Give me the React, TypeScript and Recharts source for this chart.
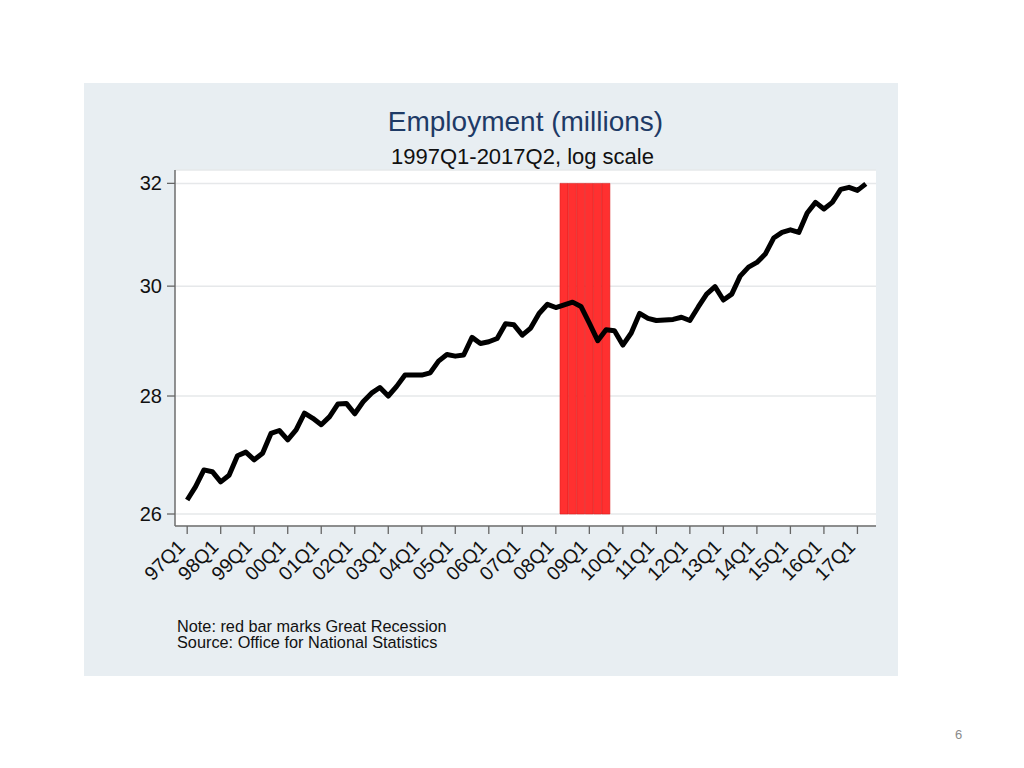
import React from 'react';
import { ComposedChart, Bar, Line, XAxis, YAxis, CartesianGrid } from 'recharts';

// quarters 1997Q1 .. 2017Q2, labelled like "97Q1"
const firstYear = 1997;
const lastYear = 2017;
const lastQuarter = 2;
const quarters: string[] = [];
for (let y = firstYear; y <= lastYear; y++) {
    for (let q = 1; q <= 4; q++) {
        if (y === lastYear && q > lastQuarter) break;
        quarters.push(`${String(y % 100).padStart(2, '0')}Q${q}`);
    }
}

// employment, millions
const employment = [
    26.23, 26.45, 26.73, 26.70, 26.53, 26.64, 26.97, 27.03, 26.90, 27.01,
    27.35, 27.40, 27.24, 27.41, 27.70, 27.61, 27.50, 27.64, 27.86, 27.87,
    27.69, 27.90, 28.05, 28.15, 28.00, 28.17, 28.37, 28.37, 28.37, 28.41,
    28.62, 28.74, 28.71, 28.73, 29.05, 28.94, 28.97, 29.03, 29.30, 29.28,
    29.09, 29.22, 29.49, 29.66, 29.60, 29.65, 29.70, 29.62, 29.31, 28.99,
    29.19, 29.17, 28.91, 29.13, 29.49, 29.40, 29.36, 29.37, 29.38, 29.42,
    29.36, 29.61, 29.85, 29.99, 29.74, 29.85, 30.19, 30.36, 30.45, 30.61,
    30.92, 31.03, 31.08, 31.03, 31.41, 31.62, 31.49, 31.62, 31.88, 31.92,
    31.86, 31.99,
];

const recessionQuarters = ['08Q2', '08Q3', '08Q4', '09Q1', '09Q2', '09Q3'];
const recessionRange = [26, 32];
const yTicks = [26, 28, 30, 32];

const data = quarters.map((q, i) => ({
    q,
    emp: employment[i],
    rec: recessionQuarters.includes(q) ? recessionRange : null,
}));

const FONT = '"Liberation Sans", Arial, sans-serif';

const QuarterTick = (props: any) => {
    const { x, y, payload } = props;
    const label = String(payload.value);
    if (!label.endsWith('Q1')) return <g />;
    const tx = x - 1;
    const ty = y + 14;
    return (
        <g>
            <line x1={x} y1={y - 8} x2={x} y2={y} stroke="#666" strokeWidth={1.3} />
            <text
                x={tx}
                y={ty}
                transform={`rotate(-45 ${tx} ${ty})`}
                textAnchor="end"
                fontSize={19.5}
                fontFamily={FONT}
                fill="#111"
            >
                {label}
            </text>
        </g>
    );
};

const App: React.FC = () => {
    return (
        <div style={{ position: 'absolute', left: 0, top: 0, width: 1024, height: 768, background: '#fff', fontFamily: FONT }}>
            <div style={{ position: 'absolute', left: 84, top: 83, width: 814, height: 593, background: '#e8eef2' }} />
            <div style={{ position: 'absolute', left: 0, top: 0 }}>
                <ComposedChart
                    width={1024}
                    height={768}
                    data={data}
                    margin={{ top: 170, right: 148, bottom: 182, left: 115 }}
                    barCategoryGap={0}
                    barGap={0}
                >
                    <CartesianGrid vertical={false} stroke="#e6e8ea" strokeWidth={1.5} fill="#fff" />
                    <XAxis
                        dataKey="q"
                        interval={0}
                        height={60}
                        padding={{ left: 8, right: 6 }}
                        tickLine={false}
                        tickSize={8}
                        tickMargin={0}
                        axisLine={{ stroke: '#6e6e6e', strokeWidth: 1.5 }}
                        tick={<QuarterTick />}
                    />
                    <YAxis
                        scale="log"
                        domain={[25.805, 32.27]}
                        allowDataOverflow
                        ticks={yTicks}
                        width={60}
                        tickSize={8}
                        tickMargin={5}
                        tickLine={{ stroke: '#666', strokeWidth: 1.3 }}
                        axisLine={{ stroke: '#6e6e6e', strokeWidth: 1.5 }}
                        tick={{ fill: '#111', fontSize: 20, fontFamily: FONT }}
                    />
                    <Bar
                        dataKey="rec"
                        fill="#ff3030"
                        stroke="#dc1c1c"
                        strokeWidth={0.6}
                        isAnimationActive={false}
                    />
                    <Line
                        dataKey="emp"
                        type="linear"
                        stroke="#000"
                        strokeWidth={5}
                        strokeLinejoin="round"
                        dot={false}
                        activeDot={false}
                        isAnimationActive={false}
                    />
                </ComposedChart>
            </div>
            <svg width={1024} height={768} style={{ position: 'absolute', left: 0, top: 0, pointerEvents: 'none' }}>
                <text x={525.5} y={131} textAnchor="middle" fontSize={28} fill="#1e3a66" fontFamily={FONT}>
                    Employment (millions)
                </text>
                <text x={522.5} y={164} textAnchor="middle" fontSize={22} fill="#111" fontFamily={FONT}>
                    1997Q1-2017Q2, log scale
                </text>
                <text x={177} y={632} fontSize={16.3} fill="#111" fontFamily={FONT}>
                    Note: red bar marks Great Recession
                </text>
                <text x={177} y={648} fontSize={16.3} fill="#111" fontFamily={FONT}>
                    Source: Office for National Statistics
                </text>
                <text x={955} y={739} fontSize={13} fill="#8a8a8a" fontFamily={FONT}>
                    6
                </text>
            </svg>
        </div>
    );
};

export default App;
